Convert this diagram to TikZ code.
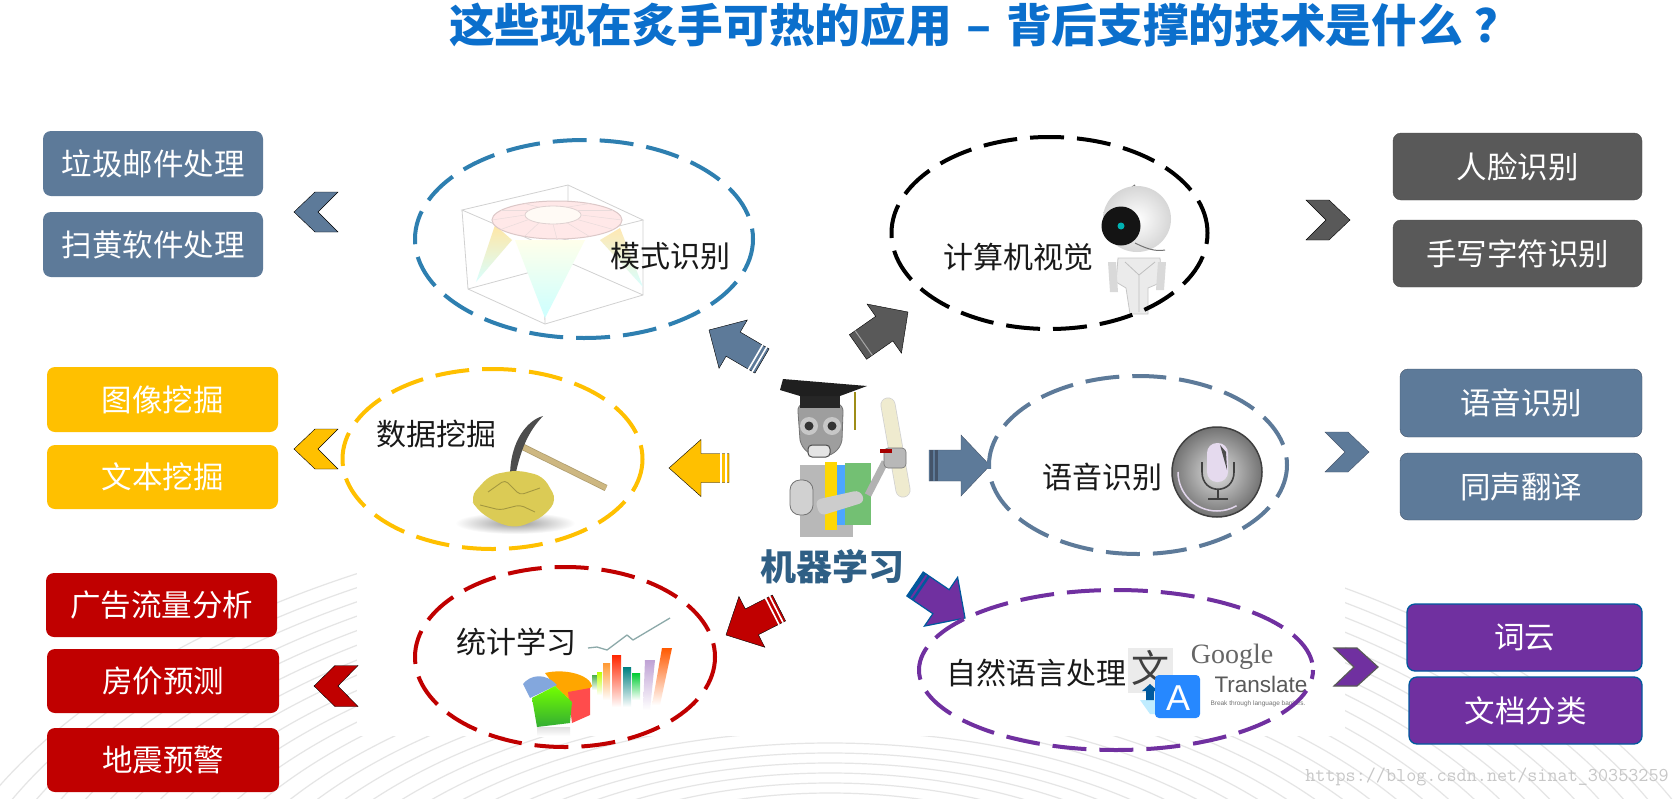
\documentclass[tikz,border=0pt]{standalone}
\usepackage{fontspec}
\setmainfont{Noto Sans CJK SC}
\setsansfont{Liberation Sans}
\setmonofont{Latin Modern Mono}
\newfontfamily\serifgoogle{Liberation Serif}
\usetikzlibrary{calc,shapes.geometric}
\definecolor{slate}{HTML}{5D7A99}
\definecolor{slatedark}{HTML}{44546A}
\definecolor{tech}{HTML}{2E7FB0}
\definecolor{gold}{HTML}{FFC000}
\definecolor{crimson}{HTML}{C00000}
\definecolor{violet}{HTML}{7030A0}
\definecolor{charcoal}{HTML}{595959}
\definecolor{edgeblue}{HTML}{00599D}
\definecolor{titleblue}{HTML}{0B6FCC}
\definecolor{centreblue}{HTML}{2F5F85}
\definecolor{handle}{HTML}{CDB781}
\definecolor{nugget}{HTML}{DBCB55}
\definecolor{scroll}{HTML}{EFEBCF}
\tikzset{
  tbox/.style={rectangle,rounded corners=8pt,inner sep=0pt,text=white,font=\fontsize{30.5}{31}\selectfont},
  tagtext/.style={inner sep=0pt,text=black!90,font=\fontsize{30}{30}\selectfont},
  ring/.style={line width=4pt,dash pattern=on 34pt off 13pt},
  chevL/.style={xscale=-1},
  bgline/.style={draw=black!10,line width=1.2pt},
  axisline/.style={draw=black!18,line width=.8pt},
}
% style, tail, tip, half shaft, half head, head length
\newcommand{\blockarrow}[6]{%
  \coordinate (base) at ($(#3)!#6pt!(#2)$);
  \draw[#1] ($(#2)!#4pt!90:(#3)$) -- ($(base)!#4pt!-90:(#2)$) -- ($(base)!#5pt!-90:(#2)$) -- (#3)
    -- ($(base)!#5pt!90:(#2)$) -- ($(base)!#4pt!90:(#2)$) -- ($(#2)!#4pt!-90:(#3)$) -- cycle;}
% style, tail, tip, distance, half width
\newcommand{\arrowstripe}[5]{%
  \draw[#1] ($(#2)!#4pt!(#3)!#5pt!90:(#3)$) -- ($(#2)!#4pt!(#3)!#5pt!-90:(#3)$);}
% style, centre x, y, half height, extra key
\newcommand{\chevron}[5]{%
  \draw[#1,shift={(#2,#3)},#5] (22,0) -- (1,-#4) -- (-22,-#4) -- (-2,0) -- (-22,#4) -- (1,#4) -- cycle;}
\begin{document}
\begin{tikzpicture}[x=1pt,y=-1pt]
\useasboundingbox (0,0) rectangle (1678,798);
\fill[white] (0,0) rectangle (1678,798);
% background arcs
\begin{scope}
\clip (0,0) rectangle (1678,798);
\foreach \i in {-5,...,20} \draw[bgline] (830,1000) ellipse [x radius={480+22*\i},y radius={257+(\i<0?10:12)*\i}];
\fill[white] (357,0) rectangle (1345,736);
\fill[white] (0,0) rectangle (1678,560);
\end{scope}
% title
\node[inner sep=0pt,text=titleblue,font=\fontsize{45.7}{46}\selectfont\bfseries] (title) at (985,25) {这些现在炙手可热的应用\hspace{4pt} – \hspace{4pt}背后支撑的技术是什么\hspace{12pt}？};
% left boxes
\node[tbox,fill=slate,minimum width=220pt,minimum height=65pt] (b1) at (153,163.5) {垃圾邮件处理};
\node[tbox,fill=slate,minimum width=220pt,minimum height=65pt] (b2) at (153,244.5) {扫黄软件处理};
\node[tbox,fill=gold,minimum width=231pt,minimum height=65pt] (b3) at (162.5,399.5) {图像挖掘};
\node[tbox,fill=gold,minimum width=231pt,minimum height=64pt] (b4) at (162.5,477) {文本挖掘};
\node[tbox,fill=crimson,minimum width=231pt,minimum height=64pt] (b5) at (161.5,605) {广告流量分析};
\node[tbox,fill=crimson,minimum width=232pt,minimum height=64pt] (b6) at (163,681) {房价预测};
\node[tbox,fill=crimson,minimum width=232pt,minimum height=64pt] (b7) at (163,760) {地震预警};
% right boxes
\node[tbox,fill=charcoal,draw=black!70,minimum width=249pt,minimum height=67pt] (b8) at (1517.5,166.5) {人脸识别};
\node[tbox,fill=charcoal,draw=black!70,minimum width=249pt,minimum height=67pt] (b9) at (1517.5,253.5) {手写字符识别};
\node[tbox,fill=slate,draw=slatedark,minimum width=242pt,minimum height=68pt] (b10) at (1521,403) {语音识别};
\node[tbox,fill=slate,draw=slatedark,minimum width=242pt,minimum height=67pt] (b11) at (1521,486.5) {同声翻译};
\node[tbox,fill=violet,draw=edgeblue,line width=1.3pt,minimum width=235pt,minimum height=67pt] (b12) at (1524.5,637.5) {词云};
\node[tbox,fill=violet,draw=edgeblue,line width=1.3pt,minimum width=233pt,minimum height=67pt] (b13) at (1525.5,710.5) {文档分类};
% chevrons
\chevron{fill=slate}{316}{212}{20}{chevL}
\chevron{fill=gold}{316}{449}{20}{chevL}
\chevron{fill=crimson}{336}{686}{20.5}{chevL}
\chevron{fill=charcoal}{1328}{220}{20}{xscale=1}
\chevron{fill=slate,draw=slatedark}{1347}{452}{20}{xscale=1}
\chevron{fill=violet,draw=charcoal,line width=1.2pt}{1356}{667}{19}{xscale=1}
% surface plot image
\draw[axisline] (462,210) -- (568,185) -- (643,220) -- (543,245) -- cycle;
\draw[axisline] (462,210) -- (468,289) -- (545,324) -- (643,295) -- (643,220);
\draw[axisline] (543,245) -- (545,324) (568,185) -- (568,262) -- (468,289) (568,262) -- (643,295);
\shade[top color=yellow!45!orange!35,bottom color=cyan!15] (495,225) -- (476,282) -- (512,240) -- cycle;
\shade[top color=yellow!8,bottom color=cyan!20] (515,240) -- (545,318) -- (585,240) -- cycle;
\shade[top color=yellow!40!orange!30,bottom color=cyan!15] (620,228) -- (643,287) -- (600,240) -- cycle;
\filldraw[fill=red!9,draw=red!35!black!22,line width=1pt] (557,220) ellipse [x radius=65,y radius=19];
\filldraw[fill=orange!4,draw=red!30!black!18,line width=.8pt] (553,215) ellipse [x radius=28,y radius=9];
\foreach \a in {-60,-30,...,240} \draw[red!35!black!14,line width=.5pt] ($(553,215)+(\a:28 and 9)$) -- ($(557,220)+(\a:65 and 19)$);
% camera robot image
\draw[black!55,line width=1.3pt] (1123,203) .. controls (1125,195) and (1128,190) .. (1135,185);
\shade[inner color=white,outer color=black!16] (1137,219) ellipse [x radius=34,y radius=33];
\draw[black!55,line width=1pt] (1135,243) .. controls (1145,248) and (1155,252) .. (1165,250);
\fill[black!92] (1121,226) circle (19.5);
\fill[teal!60!cyan] (1121,226) circle (3.5);
\filldraw[fill=black!8,draw=black!22,line width=.8pt] (1118,258) -- (1160,258) -- (1162,282) -- (1148,288) -- (1148,314) -- (1130,314) -- (1126,288) -- (1116,282) -- cycle;
\draw[black!25,line width=.8pt] (1125,262) -- (1139,275) -- (1155,262) (1139,275) -- (1139,312);
\fill[black!15] (1108,262) -- (1116,262) -- (1118,292) -- (1110,292) -- cycle;
\fill[black!15] (1158,262) -- (1166,262) -- (1164,290) -- (1156,290) -- cycle;
% graduate robot image
\filldraw[fill=black!38,draw=black!55,line width=.8pt] (798,412) .. controls (795,395) and (845,395) .. (843,412) -- (842,440) .. controls (838,462) and (805,462) .. (800,440) -- cycle;
\fill[black!85] (800,392) rectangle (840,408);
\fill[black!88] (783,379) -- (867,386) -- (840,396) -- (800,396) -- (780,390) -- cycle;
\draw[olive!70!brown,line width=2pt] (855,392) -- (855,430);
\foreach \x in {809,832} {\fill[black!22] (\x,426) circle (9); \fill[black!80] (\x,426) circle (4.5);}
\filldraw[fill=black!10,draw=black!70,rounded corners=4pt,line width=1pt] (808,445) rectangle (830,457);
\fill[black!28] (800,465) rectangle (853,537);
\filldraw[fill=black!18,draw=black!55,rounded corners=10pt,line width=.8pt] (790,480) rectangle (813,515);
\draw[line width=15pt,draw=black!18,line cap=round] (888,405) -- (903,490);
\draw[line width=13.5pt,draw=scroll,line cap=round] (888,405) -- (903,490);
\fill[yellow!75!orange] (825,462) rectangle (837,530);
\fill[blue!50!cyan!70] (837,465) rectangle (845,525);
\fill[green!55!black!55] (845,463) rectangle (871,525);
\fill[black!20,rounded corners=6pt] (815,500) -- (860,490) -- (865,502) -- (820,516) -- cycle;
\draw[black!30,line width=7pt] (868,495) -- (885,462);
\filldraw[fill=black!28,draw=black!55,rounded corners=4pt,line width=.6pt] (884,448) rectangle (906,468);
\fill[red!65!black] (880,449) rectangle (892,453);
% nugget and pick image
\shade[inner color=black!40,outer color=white] (515,523) ellipse [x radius=60,y radius=11];
\draw[draw=handle!85!black,line width=6.5pt] (523,447) -- (606,488);
\draw[draw=handle,line width=5pt] (523,447) -- (606,488);
\fill[black!70] (510,477) .. controls (510,440) and (528,420) .. (543,416) .. controls (532,428) and (522,442) .. (515,477) -- cycle;
\fill[nugget,rounded corners=9pt] (470,497) -- (490,475) -- (517,470) -- (543,476) -- (557,500) -- (543,517) -- (517,528) -- (497,523) -- (477,510) -- cycle;
\draw[nugget!75!black,line width=.9pt,rounded corners=4pt] (488,492) -- (505,480) -- (520,495) -- (540,488) (480,505) -- (500,510) -- (520,505) -- (535,512);
% chart image
\draw[teal!50!black!45,line width=1.3pt,line join=round] (588,648) -- (597,647) -- (607,650) -- (627,635) -- (633,640) -- (670,618);
\shade[top color=green!55!black!70,bottom color=white] (592,675) rectangle (597,690);
\shade[top color=yellow!75!green,bottom color=white] (597,672) rectangle (602,695);
\shade[top color=orange!80,bottom color=white] (603,663) rectangle (610,700);
\shade[top color=red!70!orange,bottom color=white] (612,655) rectangle (621,707);
\shade[top color=teal,bottom color=white] (623,667) rectangle (631,707);
\shade[top color=green!60!teal,bottom color=white] (632,673) rectangle (640,700);
\shade[top color=violet!45,bottom color=white] (645,660) -- (655,660) -- (650,710) -- (643,710) -- cycle;
\shade[top color=orange!70!red,bottom color=white] (662,648) -- (672,648) -- (660,705) -- (652,705) -- cycle;
\fill[orange!70!yellow] (545,673) .. controls (565,668) and (590,675) .. (592,686) -- (575,705) -- (555,686) -- cycle;
\fill[cyan!50!blue!50] (523,684) .. controls (530,675) and (545,672) .. (557,685) -- (530,698) -- cycle;
\fill[red!60!pink] (568,692) -- (590,688) -- (590,715) -- (572,723) -- cycle;
\shade[top color=green!55!yellow,bottom color=green!60!black!80] (532,698) -- (555,686) -- (572,702) -- (570,723) -- (537,727) -- cycle;
\shade[top color=black!12,bottom color=white] (537,727) rectangle (570,736);
% siri image
\shade[inner color=black!12,outer color=black!55] (1217,472) circle (45);
\draw[black!75,line width=1.5pt] (1217,472) circle (45);
\draw[white!80!violet,line width=1.5pt] (1178,472) arc [start angle=180,end angle=300,x radius=39,y radius=-39];
\fill[violet!18,rounded corners=10pt] (1207,443) rectangle (1228,482);
\fill[black!70] (1220,445) -- (1226,452) -- (1227,470) -- cycle;
\draw[black!75,line width=1.6pt] (1202,462) -- (1202,472) .. controls (1202,495) and (1234,495) .. (1234,472) -- (1234,462);
\draw[black!75,line width=1.6pt] (1218,490) -- (1218,499) (1208,499) -- (1228,499);
% google translate image
\fill[black!8] (1128,648) rectangle (1173,693);
\node[inner sep=0pt,text=black!75,font=\fontsize{38}{38}\selectfont] (wen) at (1150,668) {文};
\fill[blue!30!cyan!25] (1140,700) -- (1158,700) -- (1158,714) -- (1150,714) -- cycle;
\fill[edgeblue] (1142,691) -- (1150,684) -- (1158,691) -- (1154,691) -- (1154,700) -- (1146,700) -- (1146,691) -- cycle;
\fill[blue!55!cyan!85,rounded corners=4pt] (1155,675) rectangle (1200,718);
\node[inner sep=0pt,text=white,font=\fontsize{36}{36}\selectfont\sffamily] (aa) at (1178,698) {A};
\node[inner sep=0pt,text=black!60,font=\fontsize{28}{28}\selectfont\serifgoogle] (g1) at (1232,657) {Google};
\node[inner sep=0pt,text=black!65,font=\fontsize{22.5}{23}\selectfont\sffamily] (g2) at (1261,684) {Translate};
\node[inner sep=0pt,text=black!55,font=\fontsize{6.5}{7}\selectfont\sffamily] (g3) at (1258,704) {Break through language barriers.};
% block arrows from the central robot
\coordinate (ta1) at (762,361); \coordinate (ha1) at (709,330);
\coordinate (ta2) at (858,347); \coordinate (ha2) at (908,312);
\coordinate (ta3) at (729,468); \coordinate (ha3) at (669,468);
\coordinate (ta4) at (929,465.5); \coordinate (ha4) at (990,465.5);
\coordinate (ta5) at (779,608); \coordinate (ha5) at (726,635);
\coordinate (ta6) at (915,584); \coordinate (ha6) at (965,618);
\blockarrow{fill=slate}{ta1}{ha1}{14}{28}{28}
\arrowstripe{white,line width=1.6pt}{ta1}{ha1}{3}{15}
\arrowstripe{white,line width=1.6pt}{ta1}{ha1}{7.5}{15}
\blockarrow{fill=charcoal}{ta2}{ha2}{15}{30}{29}
\arrowstripe{black!35,line width=1pt}{ta2}{ha2}{7}{15}
\blockarrow{fill=gold}{ta3}{ha3}{14.5}{28.5}{32}
\arrowstripe{white,line width=1.6pt}{ta3}{ha3}{3}{15}
\arrowstripe{white,line width=1.6pt}{ta3}{ha3}{8}{15}
\blockarrow{fill=slate,draw=slatedark}{ta4}{ha4}{15.5}{30.5}{29}
\arrowstripe{slatedark,line width=3pt}{ta4}{ha4}{2}{15.5}
\arrowstripe{slatedark,line width=3pt}{ta4}{ha4}{7}{15.5}
\blockarrow{fill=crimson}{ta5}{ha5}{14.5}{28.5}{29}
\arrowstripe{white,line width=1.6pt}{ta5}{ha5}{3}{15}
\arrowstripe{white,line width=1.6pt}{ta5}{ha5}{7.5}{15}
\blockarrow{fill=violet,draw=edgeblue,line width=1.2pt}{ta6}{ha6}{14.5}{29.5}{29}
\arrowstripe{edgeblue,line width=3pt}{ta6}{ha6}{2}{14.5}
\arrowstripe{edgeblue,line width=2.5pt}{ta6}{ha6}{7}{14.5}
% dashed rings
\draw[ring,draw=tech,dash phase=0pt] (584,239) ellipse [x radius=169,y radius=99];
\draw[ring,draw=black,dash phase=23pt] (1049.5,233) ellipse [x radius=158,y radius=96];
\draw[ring,draw=gold,dash phase=0pt] (492.5,459) ellipse [x radius=150,y radius=90];
\draw[ring,draw=slate,dash phase=0pt] (1138,465) ellipse [x radius=149,y radius=89];
\draw[ring,draw=crimson,dash phase=0pt] (565,657) ellipse [x radius=150,y radius=90];
\draw[ring,draw=violet,dash phase=25pt] (1116,670) ellipse [x radius=197,y radius=80];
% labels
\node[tagtext] (n1) at (670,256) {模式识别};
\node[tagtext] (n2) at (1018,257) {计算机视觉};
\node[tagtext] (n3) at (436,434) {数据挖掘};
\node[tagtext] (n4) at (1102,477) {语音识别};
\node[tagtext] (n5) at (516,642) {统计学习};
\node[tagtext] (n6) at (1036,673) {自然语言处理};
\node[inner sep=0pt,text=centreblue,font=\fontsize{36}{36}\selectfont\bfseries] (center) at (832,567) {机器学习};
% watermark
\node[inner sep=0pt,text=black!22,font=\fontsize{19.6}{20}\selectfont\ttfamily] (mark) at (1487,777) {https://blog.csdn.net/sinat\_30353259};
\end{tikzpicture}
\end{document}
